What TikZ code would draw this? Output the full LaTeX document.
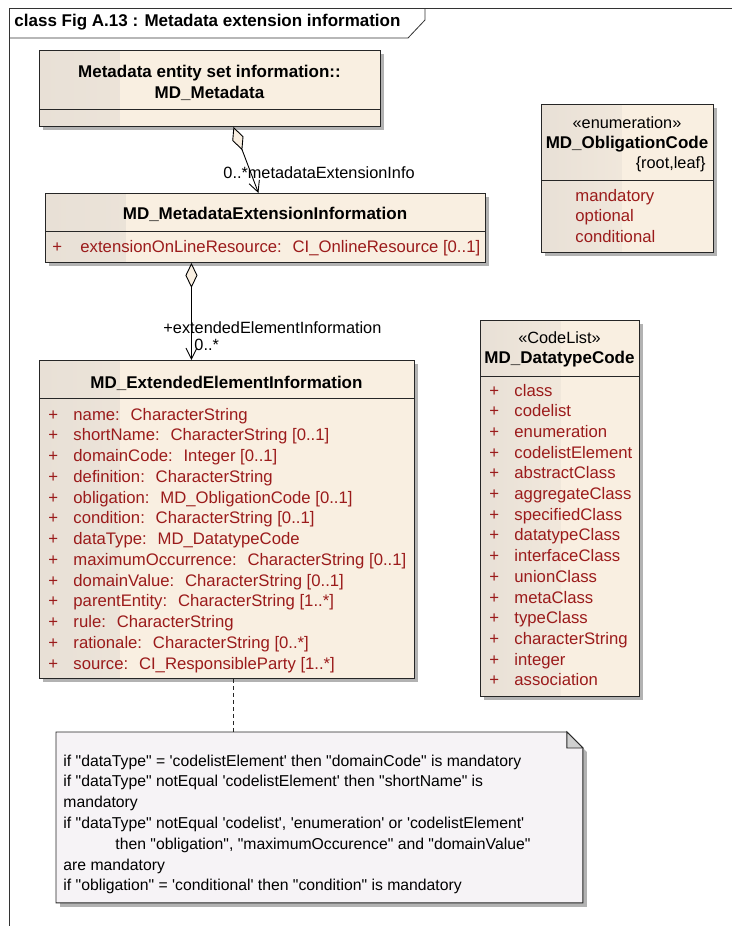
\documentclass[tikz,border=0pt]{standalone}
\usepackage{fontspec}
\setmainfont{Liberation Sans}[Ligatures=TeXOff]
\usetikzlibrary{arrows.meta, positioning, shadows}

\definecolor{umlfill}{RGB}{249,239,225}
\definecolor{umlshade}{RGB}{232,224,214}
\definecolor{umlred}{RGB}{155,27,27}
\definecolor{notefill}{RGB}{246,243,246}
\definecolor{earfill}{RGB}{208,208,208}

\begin{document}
\begin{tikzpicture}[x=1pt, y=-1pt, line width=0.9pt,
    shadowed/.style={drop shadow={shadow xshift=4pt, shadow yshift=-4pt, fill=black, opacity=0.3}},
    classbox/.style={draw=black!85, fill=umlfill, anchor=north west, inner sep=0pt, shadowed,
      path picture={\shade[left color=umlshade, right color=umlfill]
        (path picture bounding box.south west) rectangle ([xshift=80pt]path picture bounding box.north west);}},
    notebox/.style={anchor=north west, inner sep=0pt},
    cname/.style={font=\fontsize{17}{21}\selectfont\bfseries, anchor=base, inner sep=0pt},
    stereo/.style={font=\fontsize{16.3}{20}\selectfont, anchor=base, inner sep=0pt},
    txt/.style={font=\fontsize{16.3}{20}\selectfont, anchor=base west, inner sep=0pt},
    attr/.style={txt, font=\fontsize{16.7}{20}\selectfont, text=umlred},
    notetxt/.style={txt, font=\fontsize{15.75}{20}\selectfont},
    aggr/.style={arrows={Diamond[length=25pt, width=12pt, fill=umlfill]-Straight Barb[length=11pt, width=11pt]}},
]
  \useasboundingbox (0,0) rectangle (732,926);

  % Frame
  \draw[black!80, line width=0.8pt] (9,926) -- (9,8) -- (732,8);
  \draw[black!80, line width=0.8pt] (9,38) -- (408,38) -- (425,20) -- (425,8);
  \node[cname, anchor=base west] (fig) at (14,27) {class Fig A.13 : Metadata extension information};

  % Classes
  \node[classbox, minimum width=341pt, minimum height=76pt] (meta) at (39,50) {};
  \node[classbox, minimum width=440pt, minimum height=69pt] (ext) at (45,193) {};
  \node[classbox, minimum width=375pt, minimum height=318pt] (elem) at (39,360) {};
  \node[classbox, minimum width=172pt, minimum height=148pt] (obl) at (541,104) {};
  \node[classbox, minimum width=159pt, minimum height=376pt] (dtc) at (480,320) {};
  \foreach \c/\h in {meta/59, ext/38, elem/38, obl/76, dtc/56}
    \draw[black!85] ([yshift=-\h pt]\c.north west) -- ([yshift=-\h pt]\c.north east);

  % Class names
  \node[cname] (metaT1) at (209.5,77) {Metadata entity set information::};
  \node[cname] (metaT2) at (209.5,98) {MD\_Metadata};
  \node[cname] (extT) at (265,219) {MD\_MetadataExtensionInformation};
  \node[cname] (elemT) at (226.5,388) {MD\_ExtendedElementInformation};
  \node[stereo] (oblS) at (627,128) {«enumeration»};
  \node[cname] (oblT) at (627,148) {MD\_ObligationCode};
  \node[txt, anchor=base east] (oblR) at (706,168) {\{root,leaf\}};
  \node[stereo] (dtcS) at (559.5,343) {«CodeList»};
  \node[cname] (dtcT) at (559.5,363) {MD\_DatatypeCode};

  % Attributes
  \node[attr] (extP) at (52,252) {+};
  \node[attr] (extA) at (80,252) {extensionOnLineResource:~ CI\_OnlineResource [0..1]};
  \foreach \t [count=\i] in {name:~ CharacterString, shortName:~ CharacterString [0..1],
      domainCode:~ Integer [0..1], definition:~ CharacterString,
      obligation:~ MD\_ObligationCode [0..1], condition:~ CharacterString [0..1],
      dataType:~ MD\_DatatypeCode, maximumOccurrence:~ CharacterString [0..1],
      domainValue:~ CharacterString [0..1], parentEntity:~ CharacterString [1..*],
      rule:~ CharacterString, rationale:~ CharacterString [0..*],
      source:~ CI\_ResponsibleParty [1..*]} {
    \node[attr] (elemP\i) at (48,{420+(\i-1)*20.75}) {+};
    \node[attr] (elemA\i) at (73,{420+(\i-1)*20.75}) {\t};
  }
  \foreach \t [count=\i] in {mandatory, optional, conditional}
    \node[attr] (oblA\i) at (575,{201+(\i-1)*20.7}) {\t};
  \foreach \t [count=\i] in {class, codelist, enumeration, codelistElement, abstractClass,
      aggregateClass, specifiedClass, datatypeClass, interfaceClass, unionClass,
      metaClass, typeClass, characterString, integer, association} {
    \node[attr] (dtcP\i) at (489,{396+(\i-1)*20.7}) {+};
    \node[attr] (dtcA\i) at (514,{396+(\i-1)*20.7}) {\t};
  }

  % Associations
  \draw[aggr] ([xshift=23.5pt]meta.south) -- ([xshift=-7pt]ext.north);
  \draw[aggr] ([xshift=-74pt]ext.south) -- ([xshift=-35.5pt]elem.north);
  \node[txt] (role1) at (223,178) {0..*metadataExtensionInfo};
  \node[txt] (role2) at (163,333) {+extendedElementInformation};
  \node[txt] (mult2) at (194,350) {0..*};

  % Note
  \node[notebox, minimum width=526pt, minimum height=170pt] (note) at (56,732) {};
  \draw[black!85, fill=notefill, shadowed] (note.north west) -- ([xshift=-16pt]note.north east)
    -- ([yshift=-16pt]note.north east) -- (note.south east) -- (note.south west) -- cycle;
  \draw[black!85, fill=earfill] ([xshift=-16pt]note.north east) -- ([xshift=-16pt,yshift=-16pt]note.north east)
    -- ([yshift=-16pt]note.north east) -- cycle;
  \draw[black!85, dash pattern=on 4pt off 3pt] ([xshift=6.5pt]elem.south) -- ([xshift=-86pt]note.north);
  \foreach \t [count=\i] in {
      {if "dataType" = 'codelistElement' then "domainCode" is mandatory},
      {if "dataType" notEqual 'codelistElement' then "shortName" is},
      {mandatory},
      {if "dataType" notEqual 'codelist', 'enumeration' or 'codelistElement'},
      {\hspace*{52pt}then "obligation", "maximumOccurence" and "domainValue"},
      {are mandatory},
      {if "obligation" = 'conditional' then "condition" is mandatory}}
    \node[notetxt] (noteL\i) at (63,{766+(\i-1)*20.8}) {\t};
\end{tikzpicture}
\end{document}
